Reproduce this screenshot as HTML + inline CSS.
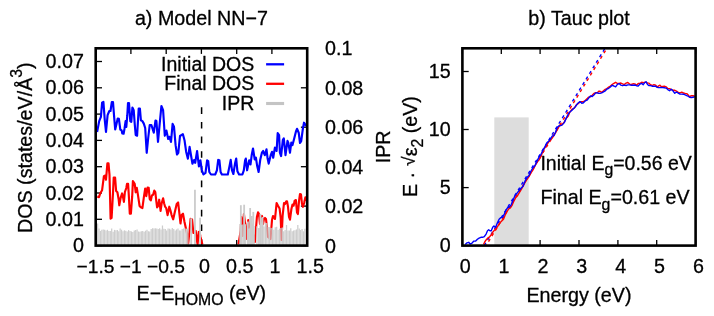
<!DOCTYPE html>
<html><head><meta charset="utf-8"><title>plot</title>
<style>html,body{margin:0;padding:0;background:#fff}body{width:714px;height:316px;overflow:hidden;font-family:"Liberation Sans",sans-serif}</style></head>
<body>
<svg width="714" height="316" viewBox="0 0 714 316" style="display:block;will-change:transform">
<style>text{stroke:#000;stroke-width:0.3px;stroke-linejoin:round}</style>
<rect width="714" height="316" fill="#fff"/>
<g font-family="'Liberation Sans', sans-serif" font-size="19.7" fill="#000">
<g stroke="#000" stroke-width="1.3" fill="none">
<line x1="95.7" y1="245.6" x2="102.0" y2="245.6"/>
<line x1="95.7" y1="219.3" x2="102.0" y2="219.3"/>
<line x1="95.7" y1="193.0" x2="102.0" y2="193.0"/>
<line x1="95.7" y1="166.7" x2="102.0" y2="166.7"/>
<line x1="95.7" y1="140.4" x2="102.0" y2="140.4"/>
<line x1="95.7" y1="114.1" x2="102.0" y2="114.1"/>
<line x1="95.7" y1="87.8" x2="102.0" y2="87.8"/>
<line x1="95.7" y1="61.5" x2="102.0" y2="61.5"/>
<line x1="307.2" y1="245.6" x2="300.9" y2="245.6"/>
<line x1="307.2" y1="206.1" x2="300.9" y2="206.1"/>
<line x1="307.2" y1="166.7" x2="300.9" y2="166.7"/>
<line x1="307.2" y1="127.2" x2="300.9" y2="127.2"/>
<line x1="307.2" y1="87.8" x2="300.9" y2="87.8"/>
<line x1="307.2" y1="48.3" x2="300.9" y2="48.3"/>
<line x1="95.7" y1="48.3" x2="95.7" y2="53.9"/>
<line x1="130.9" y1="48.3" x2="130.9" y2="53.9"/>
<line x1="166.2" y1="48.3" x2="166.2" y2="53.9"/>
<line x1="201.4" y1="245.6" x2="201.4" y2="240.0"/>
<line x1="201.4" y1="48.3" x2="201.4" y2="53.9"/>
<line x1="236.7" y1="245.6" x2="236.7" y2="240.0"/>
<line x1="236.7" y1="48.3" x2="236.7" y2="53.9"/>
<line x1="271.9" y1="48.3" x2="271.9" y2="53.9"/>
<line x1="307.2" y1="48.3" x2="307.2" y2="53.9"/>
</g>
<line x1="201.6" y1="107.3" x2="201.6" y2="245" stroke="#000" stroke-width="1.5" stroke-dasharray="6.6 8.05"/>
<polyline points="97.1,132.0 99.2,121.1 100.9,116.9 102.1,102.6 103.4,101.8 104.8,120.3 106.0,132.0 107.6,115.2 109.3,111.0 110.5,111.0 111.8,102.1 113.0,102.1 114.0,115.2 115.2,129.5 116.6,123.6 117.7,118.6 118.9,118.9 120.3,129.5 121.6,130.3 122.3,133.4 123.6,133.7 124.5,128.7 125.6,121.1 126.3,127.0 127.3,115.2 128.0,103.1 129.0,103.1 130.3,121.1 131.3,121.9 132.4,107.6 133.7,110.2 134.7,123.6 135.7,135.0 137.1,135.7 138.7,108.5 139.9,108.5 140.9,120.3 142.4,121.1 143.8,123.6 145.2,128.0 146.7,152.8 148.2,138.0 149.7,125.0 151.4,125.0 153.8,132.6 155.5,120.5 156.4,121.0 158.0,141.8 159.7,123.6 161.4,106.0 163.1,110.2 164.8,135.8 166.4,130.6 168.2,139.0 169.4,136.8 171.0,142.0 172.6,123.9 174.0,126.8 175.6,145.2 177.0,154.5 178.3,152.8 180.0,136.0 182.9,134.2 184.5,140.2 186.2,151.9 187.9,158.7 189.6,146.9 191.3,157.0 192.4,163.7 194.1,160.0 195.2,162.8 197.1,151.0 198.9,166.5 200.4,160.3 201.8,170.0 203.4,174.5 205.5,172.9 207.1,160.3 208.2,161.1 209.3,172.0 211.0,174.5 215.2,174.5 216.9,170.3 218.2,159.9 219.4,160.3 220.6,172.0 221.9,174.5 227.8,174.5 229.5,166.1 230.7,159.9 232.0,170.3 233.4,174.0 235.0,163.6 236.2,158.6 237.4,171.2 239.1,174.5 242.4,174.5 243.8,170.3 245.1,160.3 245.8,158.6 247.1,170.3 249.2,160.3 250.5,164.5 251.8,154.4 253.0,148.5 254.7,159.4 255.9,157.7 257.2,166.1 258.6,172.0 260.3,159.4 261.9,152.7 263.1,151.0 264.8,155.2 266.5,149.3 267.6,158.6 268.7,163.6 270.7,155.2 272.0,151.8 273.2,157.7 274.9,147.6 276.6,151.0 277.7,133.0 279.1,135.0 279.9,152.7 281.1,156.1 282.8,140.1 283.8,138.4 285.5,155.2 287.5,140.9 288.3,142.6 290.0,152.7 291.3,142.6 292.5,145.1 294.2,138.4 295.9,131.7 297.0,128.8 298.7,132.7 300.0,143.0 301.2,141.1 302.9,128.5 304.0,122.7 306.2,126.0" fill="none" stroke="#0000ff" stroke-width="2.15" stroke-linejoin="round" stroke-linecap="butt"/>
<polyline points="97.3,196.5 99.0,197.2 100.4,193.0 102.1,190.2 103.9,176.2 105.3,175.5 106.0,179.7 107.4,163.3 108.5,163.3 109.5,174.8 110.6,218.6 111.6,217.9 113.0,193.0 113.7,177.6 115.1,177.6 116.1,190.9 117.4,192.2 118.6,199.0 119.3,205.3 120.7,197.6 122.1,193.4 123.1,197.6 123.9,201.8 124.9,192.0 126.3,188.0 127.0,183.9 128.1,183.9 128.7,193.4 129.8,213.7 130.9,213.7 132.2,196.2 132.9,181.1 134.7,183.9 135.7,192.3 136.8,187.8 137.9,194.6 139.6,206.0 141.0,207.4 142.4,208.1 143.8,197.6 145.2,188.5 146.3,196.2 147.6,187.5 148.7,187.8 149.7,199.0 150.8,200.4 151.9,195.5 153.1,194.8 154.3,190.6 155.3,192.0 156.4,201.8 157.1,207.4 158.1,206.0 159.2,199.7 160.6,210.9 161.7,203.2 163.1,198.3 164.1,203.2 165.1,206.7 166.2,208.1 167.6,215.1 169.3,206.7 170.4,210.2 171.6,215.1 173.2,219.3 174.6,213.0 176.7,203.9 178.1,202.5 179.1,210.9 180.5,223.5 181.6,215.1 183.0,213.7 184.4,221.4 185.6,227.0 187.0,233.3 188.2,243.5 189.6,229.8 190.6,218.9 192.1,219.5 193.4,233.0 194.8,232.4 195.7,231.0 196.9,240.2 197.6,244.3 198.7,232.0 199.5,231.6 200.5,237.0 202.4,244.6" fill="none" stroke="#ff0000" stroke-width="2.15" stroke-linejoin="round"/>
<polyline points="238.5,244.4 240.7,230.3 241.4,217.0 242.6,236.0 243.9,214.0 245.2,225.0 246.1,239.0 247.2,228.0 248.3,220.0 249.5,228.0 251.0,223.0 252.5,232.0 254.9,242.0 256.9,217.0 258.0,212.4 259.0,214.0 260.0,224.0 261.0,217.0 262.0,216.0 263.0,224.0 264.0,219.0 265.0,218.0 266.0,219.0 268.0,237.0 270.5,239.0 272.0,220.0 273.0,216.0 274.5,218.0 275.0,219.0 276.6,203.0 278.0,205.7 279.6,208.5 280.7,218.0 281.5,240.0 282.6,216.0 284.0,203.0 285.0,204.0 286.3,201.2 287.0,201.2 288.0,206.8 289.0,217.0 290.0,219.7 291.4,209.0 292.5,204.6 293.6,205.7 294.7,200.6 295.9,200.0 297.0,212.4 297.9,214.0 299.0,201.2 300.0,194.0 301.0,194.5 302.0,204.0 303.0,206.8 304.3,202.3 305.4,197.3 306.0,201.0" fill="none" stroke="#ff0000" stroke-width="2.15" stroke-linejoin="round"/>
<g stroke="#cdcdcd" stroke-width="1.25"><line x1="97.60" y1="223.5" x2="97.60" y2="245.6"/><line x1="99.01" y1="228.6" x2="99.01" y2="245.6"/><line x1="100.42" y1="230.9" x2="100.42" y2="245.6"/><line x1="101.83" y1="229.7" x2="101.83" y2="245.6"/><line x1="103.24" y1="229.6" x2="103.24" y2="245.6"/><line x1="104.65" y1="229.7" x2="104.65" y2="245.6"/><line x1="106.06" y1="230.6" x2="106.06" y2="245.6"/><line x1="107.47" y1="229.8" x2="107.47" y2="245.6"/><line x1="108.88" y1="231.1" x2="108.88" y2="245.6"/><line x1="110.29" y1="231.0" x2="110.29" y2="245.6"/><line x1="111.70" y1="228.6" x2="111.70" y2="245.6"/><line x1="113.11" y1="231.7" x2="113.11" y2="245.6"/><line x1="114.52" y1="229.9" x2="114.52" y2="245.6"/><line x1="115.93" y1="230.3" x2="115.93" y2="245.6"/><line x1="117.34" y1="230.0" x2="117.34" y2="245.6"/><line x1="118.75" y1="231.2" x2="118.75" y2="245.6"/><line x1="120.16" y1="228.6" x2="120.16" y2="245.6"/><line x1="121.57" y1="229.7" x2="121.57" y2="245.6"/><line x1="122.98" y1="231.3" x2="122.98" y2="245.6"/><line x1="124.39" y1="230.3" x2="124.39" y2="245.6"/><line x1="125.80" y1="230.7" x2="125.80" y2="245.6"/><line x1="127.21" y1="231.6" x2="127.21" y2="245.6"/><line x1="128.62" y1="230.1" x2="128.62" y2="245.6"/><line x1="130.03" y1="230.9" x2="130.03" y2="245.6"/><line x1="131.44" y1="231.4" x2="131.44" y2="245.6"/><line x1="132.85" y1="232.0" x2="132.85" y2="245.6"/><line x1="134.26" y1="230.6" x2="134.26" y2="245.6"/><line x1="135.67" y1="229.9" x2="135.67" y2="245.6"/><line x1="137.08" y1="229.6" x2="137.08" y2="245.6"/><line x1="138.49" y1="231.5" x2="138.49" y2="245.6"/><line x1="139.90" y1="231.8" x2="139.90" y2="245.6"/><line x1="141.31" y1="231.3" x2="141.31" y2="245.6"/><line x1="142.72" y1="231.0" x2="142.72" y2="245.6"/><line x1="144.13" y1="231.7" x2="144.13" y2="245.6"/><line x1="145.54" y1="230.7" x2="145.54" y2="245.6"/><line x1="146.95" y1="229.7" x2="146.95" y2="245.6"/><line x1="148.36" y1="231.2" x2="148.36" y2="245.6"/><line x1="149.77" y1="231.6" x2="149.77" y2="245.6"/><line x1="151.18" y1="229.1" x2="151.18" y2="245.6"/><line x1="152.59" y1="228.2" x2="152.59" y2="245.6"/><line x1="154.00" y1="228.5" x2="154.00" y2="245.6"/><line x1="155.41" y1="228.3" x2="155.41" y2="245.6"/><line x1="156.82" y1="228.4" x2="156.82" y2="245.6"/><line x1="158.23" y1="229.1" x2="158.23" y2="245.6"/><line x1="159.64" y1="228.3" x2="159.64" y2="245.6"/><line x1="161.05" y1="229.5" x2="161.05" y2="245.6"/><line x1="162.46" y1="225.5" x2="162.46" y2="245.6"/><line x1="163.87" y1="228.8" x2="163.87" y2="245.6"/><line x1="165.28" y1="229.0" x2="165.28" y2="245.6"/><line x1="166.69" y1="230.6" x2="166.69" y2="245.6"/><line x1="168.10" y1="228.6" x2="168.10" y2="245.6"/><line x1="169.51" y1="228.7" x2="169.51" y2="245.6"/><line x1="170.92" y1="229.6" x2="170.92" y2="245.6"/><line x1="172.33" y1="228.1" x2="172.33" y2="245.6"/><line x1="173.74" y1="229.1" x2="173.74" y2="245.6"/><line x1="175.15" y1="230.6" x2="175.15" y2="245.6"/><line x1="176.56" y1="229.4" x2="176.56" y2="245.6"/><line x1="177.97" y1="228.6" x2="177.97" y2="245.6"/><line x1="179.38" y1="230.4" x2="179.38" y2="245.6"/><line x1="180.79" y1="230.4" x2="180.79" y2="245.6"/><line x1="182.20" y1="229.1" x2="182.20" y2="245.6"/><line x1="183.61" y1="228.4" x2="183.61" y2="245.6"/><line x1="185.02" y1="228.6" x2="185.02" y2="245.6"/><line x1="186.43" y1="228.6" x2="186.43" y2="245.6"/><line x1="187.84" y1="228.6" x2="187.84" y2="245.6"/><line x1="240.01" y1="224.0" x2="240.01" y2="245.6"/><line x1="241.42" y1="224.9" x2="241.42" y2="245.6"/><line x1="242.83" y1="224.6" x2="242.83" y2="245.6"/><line x1="244.24" y1="226.2" x2="244.24" y2="245.6"/><line x1="245.65" y1="224.2" x2="245.65" y2="245.6"/><line x1="248.47" y1="229.2" x2="248.47" y2="245.6"/><line x1="249.88" y1="227.7" x2="249.88" y2="245.6"/><line x1="251.29" y1="224.9" x2="251.29" y2="245.6"/><line x1="252.70" y1="225.5" x2="252.70" y2="245.6"/><line x1="254.11" y1="226.1" x2="254.11" y2="245.6"/><line x1="256.93" y1="226.2" x2="256.93" y2="245.6"/><line x1="258.34" y1="228.0" x2="258.34" y2="245.6"/><line x1="259.75" y1="228.0" x2="259.75" y2="245.6"/><line x1="261.16" y1="218.1" x2="261.16" y2="245.6"/><line x1="262.57" y1="221.7" x2="262.57" y2="245.6"/><line x1="263.98" y1="226.5" x2="263.98" y2="245.6"/><line x1="265.39" y1="222.8" x2="265.39" y2="245.6"/><line x1="266.80" y1="222.9" x2="266.80" y2="245.6"/><line x1="268.21" y1="227.0" x2="268.21" y2="245.6"/><line x1="269.62" y1="227.1" x2="269.62" y2="245.6"/><line x1="271.03" y1="227.9" x2="271.03" y2="245.6"/><line x1="272.44" y1="227.7" x2="272.44" y2="245.6"/><line x1="273.85" y1="229.7" x2="273.85" y2="245.6"/><line x1="275.26" y1="227.3" x2="275.26" y2="245.6"/><line x1="276.67" y1="226.8" x2="276.67" y2="245.6"/><line x1="278.08" y1="230.1" x2="278.08" y2="245.6"/><line x1="279.49" y1="228.6" x2="279.49" y2="245.6"/><line x1="280.90" y1="227.9" x2="280.90" y2="245.6"/><line x1="282.31" y1="227.4" x2="282.31" y2="245.6"/><line x1="283.72" y1="231.2" x2="283.72" y2="245.6"/><line x1="285.13" y1="230.1" x2="285.13" y2="245.6"/><line x1="286.54" y1="225.0" x2="286.54" y2="245.6"/><line x1="287.95" y1="230.4" x2="287.95" y2="245.6"/><line x1="289.36" y1="230.4" x2="289.36" y2="245.6"/><line x1="290.77" y1="228.2" x2="290.77" y2="245.6"/><line x1="292.18" y1="231.2" x2="292.18" y2="245.6"/><line x1="293.59" y1="230.5" x2="293.59" y2="245.6"/><line x1="295.00" y1="230.3" x2="295.00" y2="245.6"/><line x1="296.41" y1="229.4" x2="296.41" y2="245.6"/><line x1="297.82" y1="225.0" x2="297.82" y2="245.6"/><line x1="299.23" y1="228.4" x2="299.23" y2="245.6"/><line x1="300.64" y1="230.1" x2="300.64" y2="245.6"/><line x1="302.05" y1="229.1" x2="302.05" y2="245.6"/><line x1="303.46" y1="231.3" x2="303.46" y2="245.6"/><line x1="304.87" y1="228.8" x2="304.87" y2="245.6"/></g>
<g stroke="#cbcbcb" stroke-width="1.8"><line x1="240.85" y1="205.2" x2="240.85" y2="245.6"/><line x1="244.15" y1="204.7" x2="244.15" y2="245.6"/><line x1="247.90" y1="221.4" x2="247.90" y2="245.6"/><line x1="250.15" y1="208.0" x2="250.15" y2="245.6"/><line x1="251.80" y1="216.0" x2="251.80" y2="245.6"/><line x1="253.30" y1="211.9" x2="253.30" y2="245.6"/><line x1="260.40" y1="213.8" x2="260.40" y2="245.6"/><line x1="262.50" y1="217.0" x2="262.50" y2="245.6"/><line x1="191.20" y1="218.3" x2="191.20" y2="245.6"/><line x1="194.95" y1="189.7" x2="194.95" y2="245.6"/><line x1="200.10" y1="217.8" x2="200.10" y2="245.6"/></g>
<text x="254.3" y="70.8" text-anchor="end" font-size="19.5">Initial DOS</text>
<text x="254.3" y="90.3" text-anchor="end" font-size="19.5">Final DOS</text>
<text x="254.3" y="109.6" text-anchor="end" font-size="19.5">IPR</text>
<line x1="266.1" y1="64.3" x2="284.1" y2="64.3" stroke="#0000ff" stroke-width="2.3"/>
<line x1="266.1" y1="83.8" x2="284.1" y2="83.8" stroke="#ff0000" stroke-width="2.3"/>
<line x1="266.1" y1="103.5" x2="284.1" y2="103.5" stroke="#c4c4c4" stroke-width="3.1"/>
<rect x="95.7" y="48.3" width="211.5" height="197.3" fill="none" stroke="#000" stroke-width="2.6"/>
<text x="83.9" y="252.2" text-anchor="end">0</text>
<text x="83.9" y="225.9" text-anchor="end">0.01</text>
<text x="83.9" y="199.6" text-anchor="end">0.02</text>
<text x="83.9" y="173.3" text-anchor="end">0.03</text>
<text x="83.9" y="147.0" text-anchor="end">0.04</text>
<text x="83.9" y="120.7" text-anchor="end">0.05</text>
<text x="83.9" y="94.4" text-anchor="end">0.06</text>
<text x="83.9" y="68.1" text-anchor="end">0.07</text>
<text x="325" y="252.6">0</text>
<text x="325" y="213.1">0.02</text>
<text x="325" y="173.7">0.04</text>
<text x="325" y="134.2">0.06</text>
<text x="325" y="94.8">0.08</text>
<text x="325" y="55.3">0.1</text>
<text x="95.5" y="273" text-anchor="middle" font-size="19.2">−1.5</text>
<text x="130.8" y="273" text-anchor="middle" font-size="19.2">−1</text>
<text x="166.0" y="273" text-anchor="middle" font-size="19.2">−0.5</text>
<text x="204.5" y="273" text-anchor="middle">0</text>
<text x="239.8" y="273" text-anchor="middle">0.5</text>
<text x="275.1" y="273" text-anchor="middle">1</text>
<text x="310.3" y="273" text-anchor="middle">1.5</text>
<text x="201.4" y="25.4" text-anchor="middle">a) Model NN−7</text>
<text x="201.4" y="300" text-anchor="middle">E−E<tspan font-size="15.8" dy="5">HOMO</tspan><tspan dy="-5"> (eV)</tspan></text>
<text transform="translate(31.5,147.7) rotate(-90)" text-anchor="middle">DOS (states/eV/Å<tspan font-size="15.8" dy="-9.7">3</tspan><tspan dy="9.7">)</tspan></text>
<text transform="translate(389.9,146.9) rotate(-90)" text-anchor="middle">IPR</text>
<rect x="494.3" y="117.4" width="34.4" height="128.2" fill="#dddddd"/>
<g stroke="#000" stroke-width="1.3" fill="none">
<line x1="462.4" y1="245.6" x2="468.7" y2="245.6"/>
<line x1="462.4" y1="187.6" x2="468.7" y2="187.6"/>
<line x1="462.4" y1="129.5" x2="468.7" y2="129.5"/>
<line x1="462.4" y1="71.5" x2="468.7" y2="71.5"/>
<line x1="462.4" y1="245.6" x2="462.4" y2="240.0"/>
<line x1="462.4" y1="48.3" x2="462.4" y2="53.9"/>
<line x1="501.3" y1="48.3" x2="501.3" y2="53.9"/>
<line x1="540.1" y1="245.6" x2="540.1" y2="240.0"/>
<line x1="540.1" y1="48.3" x2="540.1" y2="53.9"/>
<line x1="579.0" y1="245.6" x2="579.0" y2="240.0"/>
<line x1="579.0" y1="48.3" x2="579.0" y2="53.9"/>
<line x1="617.9" y1="245.6" x2="617.9" y2="240.0"/>
<line x1="617.9" y1="48.3" x2="617.9" y2="53.9"/>
<line x1="656.7" y1="245.6" x2="656.7" y2="240.0"/>
<line x1="656.7" y1="48.3" x2="656.7" y2="53.9"/>
<line x1="695.6" y1="245.6" x2="695.6" y2="240.0"/>
<line x1="695.6" y1="48.3" x2="695.6" y2="53.9"/>
</g>
<line x1="484.2" y1="245.6" x2="605.0" y2="48.3" stroke="#0000ff" stroke-width="1.4" stroke-dasharray="3.1 3.4"/>
<line x1="486.1" y1="245.6" x2="606.9" y2="48.3" stroke="#ff0000" stroke-width="1.4" stroke-dasharray="3.1 3.4" stroke-dashoffset="1.9"/>
<polyline points="483.5,244.5 484.7,242.0 486.1,239.9 487.8,238.1 489.6,236.7 491.3,234.7 493.0,231.9 494.8,229.8 496.5,228.0 498.3,225.4 500.0,222.8 501.7,221.1 503.5,219.3 505.2,215.0 507.0,211.5 508.7,208.9 510.4,208.0 512.2,205.1 513.9,201.1 515.7,197.6 517.4,195.9 521.0,189.9 523.0,186.5 525.0,182.5 527.0,179.4 529.0,176.6 531.0,172.8 533.0,169.9 535.0,166.0 537.0,162.0 539.0,159.9 541.0,156.5 543.0,150.7 545.0,147.6 547.0,144.7 548.7,141.9 550.5,140.0 552.2,138.1 553.9,135.3 555.5,132.8 557.3,129.7 559.1,126.4 560.5,125.0 562.0,124.6 564.3,122.0 565.6,119.2 567.0,117.4 568.3,116.0 569.6,112.6 572.0,109.1 573.4,108.7 574.8,107.5 576.1,105.0 577.5,104.2 580.0,102.0 581.8,101.7 583.5,101.7 585.2,100.6 587.0,98.7 588.7,97.1 590.5,96.7 592.2,95.3 593.9,93.4 595.7,92.7 597.4,92.7 598.7,91.3 600.0,91.2 601.7,92.4 603.5,90.7 605.2,89.3 606.9,88.6 608.7,87.0 610.4,86.0 612.1,84.6 613.9,83.3 615.6,82.3 617.4,83.5 619.1,83.4 620.9,83.0 622.6,83.9 624.4,84.6 626.1,83.1 627.8,82.5 629.6,84.1 631.3,84.5 633.0,83.8 634.8,83.9 636.5,85.2 638.2,83.5 640.0,83.4 641.7,82.2 643.2,82.7 644.6,82.3 646.1,82.3 647.5,83.0 649.0,83.1 650.4,84.7 652.2,85.5 653.9,84.6 655.7,85.2 657.1,87.0 658.6,85.9 660.0,85.2 661.4,86.7 662.9,86.4 664.3,86.1 666.1,86.8 667.8,88.4 669.6,88.6 671.3,89.7 673.1,90.2 674.8,90.3 676.5,91.2 678.3,92.3 680.0,92.8 681.7,92.2 683.5,93.0 685.2,93.4 686.7,93.6 688.1,94.8 689.6,96.8 691.3,95.6 693.0,95.8 694.8,96.2" fill="none" stroke="#ff0000" stroke-width="1.4" stroke-linejoin="round"/>
<polyline points="465.2,244.5 467.0,242.8 468.7,242.3 470.1,244.0 471.8,243.3 473.9,241.1 475.7,241.1 477.4,239.3 479.1,238.1 480.9,237.3 482.6,237.3 484.3,236.7 486.1,234.1 487.5,230.7 488.7,229.8 489.9,230.7 491.3,230.7 492.7,227.2 493.9,226.0 495.7,227.2 497.4,222.8 499.1,219.3 500.9,217.6 502.6,217.3 504.3,214.1 506.1,209.8 507.8,207.5 509.6,206.8 511.3,204.6 513.0,200.2 514.8,195.9 521.0,188.2 523.0,186.2 525.0,181.2 527.0,177.6 529.0,175.5 531.0,171.0 533.0,167.7 535.0,165.5 537.0,161.1 539.0,157.1 541.0,154.3 543.0,150.2 545.0,146.7 547.0,142.6 548.7,141.2 550.5,138.8 552.2,136.0 553.9,135.6 555.5,132.3 557.3,127.3 559.1,125.7 560.5,125.6 562.0,125.1 564.3,122.6 565.6,119.6 567.0,116.6 568.3,114.0 569.6,112.3 572.0,110.3 573.4,108.8 574.8,107.4 576.1,105.8 577.5,103.5 580.0,101.6 581.8,103.2 583.5,102.8 585.2,100.9 587.0,100.2 588.7,98.1 590.5,96.0 592.2,96.5 593.9,95.0 595.7,92.9 597.4,92.8 598.7,93.4 600.0,93.3 601.7,92.8 603.5,91.8 605.2,90.9 606.9,89.1 608.7,88.3 610.4,87.0 612.1,85.3 613.9,86.0 615.6,86.9 617.4,84.4 619.1,83.6 620.9,85.2 622.6,85.7 624.4,85.1 626.1,85.5 627.8,84.9 629.6,84.9 631.3,85.2 633.0,85.2 634.8,85.0 636.5,85.7 638.2,86.0 640.0,84.1 641.7,83.4 643.2,84.7 644.6,82.8 646.1,81.7 647.5,84.5 649.0,85.6 650.4,85.6 652.2,86.2 653.9,86.2 655.7,86.3 657.1,87.2 658.6,87.6 660.0,87.6 661.4,87.5 662.9,87.6 664.3,87.7 666.1,88.1 667.8,89.6 669.6,90.7 671.3,89.3 673.1,91.0 674.8,93.3 676.5,92.0 678.3,93.1 680.0,94.1 681.7,94.1 683.5,94.2 685.2,94.9 686.7,95.6 688.1,96.2 689.6,97.3 691.3,97.5 693.0,97.2 694.8,96.9" fill="none" stroke="#0000ff" stroke-width="1.4" stroke-linejoin="round"/>
<rect x="462.4" y="48.3" width="233.2" height="197.3" fill="none" stroke="#000" stroke-width="2.6"/>
<text x="450.6" y="251.9" text-anchor="end">0</text>
<text x="450.6" y="193.9" text-anchor="end">5</text>
<text x="450.6" y="135.8" text-anchor="end">10</text>
<text x="450.6" y="77.8" text-anchor="end">15</text>
<text x="465.2" y="273" text-anchor="middle">0</text>
<text x="504.1" y="273" text-anchor="middle">1</text>
<text x="542.9" y="273" text-anchor="middle">2</text>
<text x="581.8" y="273" text-anchor="middle">3</text>
<text x="620.7" y="273" text-anchor="middle">4</text>
<text x="659.5" y="273" text-anchor="middle">5</text>
<text x="698.4" y="273" text-anchor="middle">6</text>
<text x="579" y="25.3" text-anchor="middle">b) Tauc plot</text>
<text x="579" y="301.6" text-anchor="middle">Energy (eV)</text>
<text x="691.8" y="169.7" text-anchor="end" font-size="19.5">Initial E<tspan font-size="15.8" dy="5.5">g</tspan><tspan dy="-5.5">=0.56 eV</tspan></text>
<text x="689.6" y="204" text-anchor="end" font-size="19.65">Final E<tspan font-size="15.8" dy="5.5">g</tspan><tspan dy="-5.5">=0.61 eV</tspan></text>
<text transform="translate(417,146.6) rotate(-90)" text-anchor="middle">E <tspan dy="1">·</tspan><tspan dy="-1"> </tspan><tspan font-size="17.5" dy="-2.2" dx="0.5">√</tspan><tspan dy="2.2">ε</tspan><tspan font-size="15.8" dy="5.5">2</tspan><tspan dy="-5.5"> (eV)</tspan></text>
</g></svg>
</body></html>
